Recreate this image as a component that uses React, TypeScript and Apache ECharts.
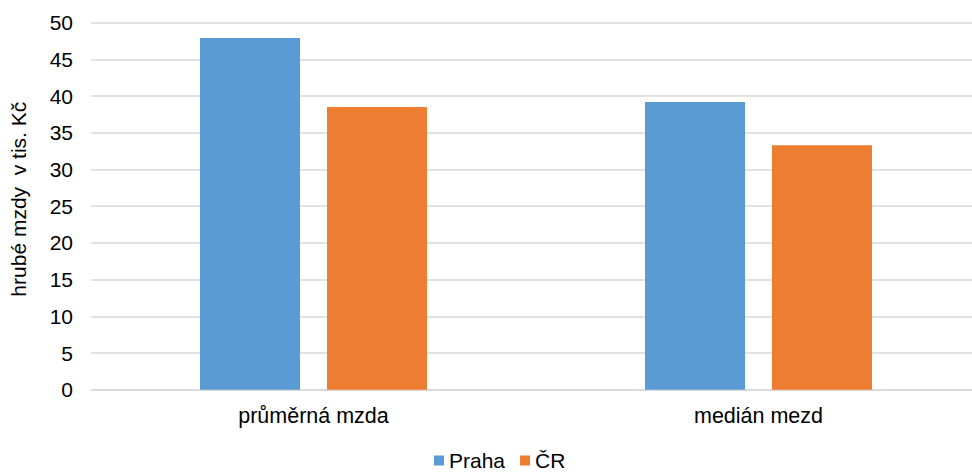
import React, { useEffect, useRef } from "react";
import * as echarts from "echarts";

const categories = ["průměrná mzda", "medián mezd"];
const prahaValues = [47.9, 39.2];
const crValues = [38.5, 33.3];
const seriesNames = ["Praha", "ČR"];
const yAxisName = "hrubé mzdy  v tis. Kč";

export default function App() {
  const ref = useRef<HTMLDivElement>(null);
  useEffect(() => {
    document.body.style.margin = "0";
    document.body.style.overflow = "hidden";
    if (!ref.current) return;
    const chart = echarts.init(ref.current, undefined, { renderer: "svg" });
    const font = "'Liberation Sans', Arial, sans-serif";
    chart.setOption({
      animation: false,
      textStyle: { fontFamily: font },
      grid: { left: 88.5, right: 0, top: 22.7, height: 367, containLabel: false },
      legend: {
        data: seriesNames,
        left: 434,
        top: 450,
        padding: 0,
        icon: "rect",
        itemWidth: 10,
        itemHeight: 10,
        itemGap: 15,
        textStyle: { fontSize: 21, color: "#000", fontFamily: font },
      },
      xAxis: {
        type: "category",
        data: categories,
        axisLine: { show: true, lineStyle: { color: "#d9d9d9", width: 1.5 } },
        axisTick: { show: false },
        axisLabel: { fontSize: 21.5, color: "#000", margin: 15, fontFamily: font },
      },
      yAxis: {
        type: "value",
        min: 0,
        max: 50,
        interval: 5,
        name: yAxisName,
        nameLocation: "middle",
        nameGap: 62,
        nameTextStyle: { fontSize: 21, color: "#000", fontFamily: font, padding: [0, 0, 0, 14] },
        axisLine: { show: false },
        axisTick: { show: false },
        axisLabel: { fontSize: 21, color: "#000", margin: 18, fontFamily: font },
        splitLine: { lineStyle: { color: "#d9d9d9", width: 1.5 } },
      },
      series: [
        {
          name: seriesNames[0],
          type: "bar",
          data: prahaValues,
          barWidth: 100,
          barGap: "27%",
          itemStyle: { color: "#5b9bd5" },
        },
        {
          name: seriesNames[1],
          type: "bar",
          data: crValues,
          barWidth: 100,
          itemStyle: { color: "#ed7d31" },
        },
      ],
    });
    return () => chart.dispose();
  }, []);
  return <div ref={ref} style={{ width: 981, height: 472 }} />;
}
